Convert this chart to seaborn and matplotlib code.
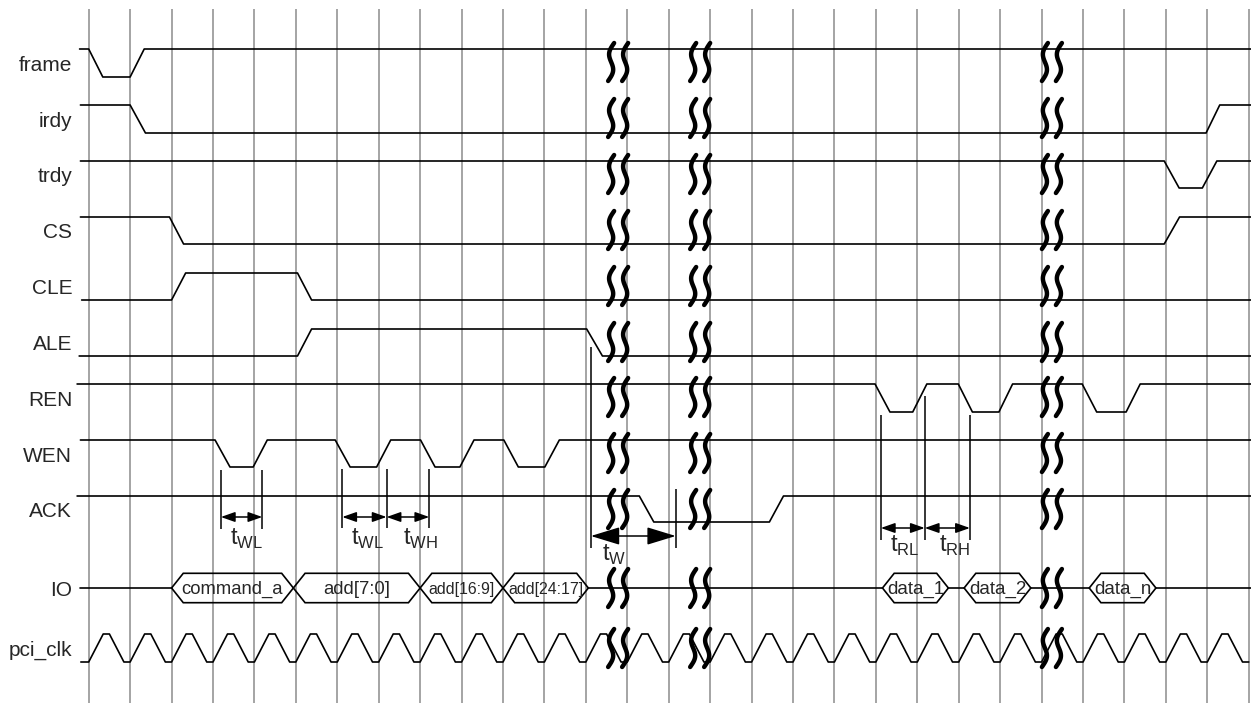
import numpy as np
import pandas as pd
import matplotlib
matplotlib.use('Agg')
import matplotlib.pyplot as plt
import seaborn as sns
from matplotlib.patches import Polygon

# ---- data: transition times in clock periods, 1 = high, 0 = low ----
signals = ['frame', 'irdy', 'trdy', 'CS', 'CLE', 'ALE', 'REN', 'WEN', 'ACK']

frame_t = [-0.22, 0.0, 0.34, 1.0, 1.34, 28.1]
frame_v = [1, 1, 0, 0, 1, 1]
irdy_t = [-0.2, 1.0, 1.37, 26.97, 27.3, 28.1]
irdy_v = [1, 1, 0, 0, 1, 1]
trdy_t = [-0.2, 25.96, 26.32, 26.88, 27.23, 28.1]
trdy_v = [1, 1, 0, 0, 1, 1]
cs_t = [-0.2, 1.95, 2.29, 25.96, 26.33, 28.1]
cs_v = [1, 1, 0, 0, 1, 1]
cle_t = [-0.17, 2.0, 2.34, 5.04, 5.38, 28.1]
cle_v = [0, 0, 1, 1, 0, 0]
ale_t = [-0.23, 5.04, 5.38, 12.02, 12.4, 28.1]
ale_v = [0, 0, 1, 1, 0, 0]
ren_t = [-0.28, 18.98, 19.34, 19.89, 20.23, 20.99, 21.33, 21.97, 22.3,
         23.98, 24.33, 25.04, 25.38, 28.1]
ren_v = [1, 1, 0, 0, 1, 1, 0, 0, 1, 1, 0, 0, 1, 1]
wen_t = [-0.2, 3.05, 3.41, 3.97, 4.31, 5.95, 6.31, 6.95, 7.29, 8.01, 8.36,
         8.96, 9.3, 10.02, 10.37, 11.01, 11.36, 28.1]
wen_v = [1, 1, 0, 0, 1, 1, 0, 0, 1, 1, 0, 0, 1, 1, 0, 0, 1, 1]
ack_t = [-0.28, 13.29, 13.64, 16.43, 16.77, 28.1]
ack_v = [1, 1, 0, 0, 1, 1]

sig_t = [frame_t, irdy_t, trdy_t, cs_t, cle_t, ale_t, ren_t, wen_t, ack_t]
sig_v = [frame_v, irdy_v, trdy_v, cs_v, cle_v, ale_v, ren_v, wen_v, ack_v]

# IO bus words: label, start, end
io_labels = ['command_a', 'add[7:0]', 'add[16:9]', 'add[24:17]', 'data_1', 'data_2', 'data_n']
io_start = [2.0, 4.94, 8.0, 10.0, 19.16, 21.13, 24.15]
io_end = [4.94, 8.0, 10.0, 12.06, 20.75, 22.74, 25.76]
io_fontsize = [13.3, 13.3, 11.4, 11.4, 13.5, 13.5, 13.5]

# pci_clk: one period shape, repeated for every cycle
clk_cycles = 29
clk_shape_t = [0.0, 0.35, 0.5, 0.85]
clk_shape_v = [0, 1, 1, 0]

# time-gap breaks (left squiggle of each pair)
breaks = [12.61, 14.59, 23.08]

# timing markers
mark_x = [3.19, 4.19, 6.12, 7.19, 8.22, 12.12, 14.17, 19.12, 20.18, 21.27]
mark_top = [470, 470, 469, 469, 469, 347, 489, 415, 396, 415]
mark_bot = [529, 529, 528, 528, 528, 548, 548, 540, 540, 540]

# timing arrows: from, to, subscript
arr_from = [3.19, 6.12, 7.19, 12.12, 19.12, 20.18]
arr_to = [4.19, 7.19, 8.22, 14.17, 20.18, 21.27]
arr_sub = ['WL', 'WL', 'WH', 'W', 'RL', 'RH']

# ---- layout (pixels) ----
PX = 41.43            # pixels per clock period
X0 = 88.7             # pixel of first clock edge
row_high = [49, 105, 161, 217, 273, 329, 384, 440, 496]
row_low = [77, 133, 188, 244, 300, 356, 412, 467, 522]
io_y, io_half = 588, 14.7
clk_hi, clk_lo = 634, 662
arr_y = [517, 517, 517, 536, 528, 528]
lab_x = [3.81, 6.74, 8.0, 12.68, 19.7, 20.91]
lab_y = [539, 539, 539, 555, 546, 546]

sns.set_style('white')
plt.rcParams['font.family'] = ['Liberation Sans', 'DejaVu Sans']
plt.rcParams['mathtext.fontset'] = 'custom'
plt.rcParams['mathtext.rm'] = 'Liberation Sans'

fig = plt.figure(figsize=(12.51, 7.06), dpi=100)
ax = fig.add_axes([0, 0, 1, 1])

# clock grid
ax.vlines(np.arange(29), 9, 703, color='#959595', lw=1.2, zorder=1)

# control signals
rows = []
for name, ts, vs, hi, lo in zip(signals, sig_t, sig_v, row_high, row_low):
    for t, v in zip(ts, vs):
        rows.append((name, t, hi if v else lo))
ck = [('pci_clk', -0.19, clk_lo)]
for k in range(clk_cycles):
    for t, v in zip(clk_shape_t, clk_shape_v):
        if k + t <= 28.1:
            ck.append(('pci_clk', k + t, clk_hi if v else clk_lo))
rows += ck
df = pd.DataFrame(rows, columns=['signal', 't', 'y'])
sns.lineplot(data=df, x='t', y='y', units='signal', estimator=None, sort=False,
             color='black', lw=1.2, legend=False, ax=ax, zorder=3)

# IO bus
gaps = [-0.2] + [v for pair in zip(io_start, io_end) for v in pair] + [28.1]
for a, b in zip(gaps[0::2], gaps[1::2]):
    if b > a:
        ax.plot([a, b], [io_y, io_y], color='black', lw=1.2, zorder=3)
s = 11.7 / PX
for lab, a, b, fs in zip(io_labels, io_start, io_end, io_fontsize):
    pts = [(a, io_y), (a + s, io_y - io_half), (b - s, io_y - io_half), (b, io_y),
           (b - s, io_y + io_half), (a + s, io_y + io_half)]
    ax.add_patch(Polygon(pts, closed=True, fill=False, ec='black', lw=1.2, zorder=3))
    ax.text((a + b) / 2, io_y + 1.5, lab, ha='center', va='center', fontsize=fs, zorder=4)

# labels
for name, hi, lo in zip(signals, row_high, row_low):
    ax.text(-0.40, (hi + lo) / 2 + 2.5, name, ha='right', va='center', fontsize=15)
ax.text(-0.40, io_y + 2.5, 'IO', ha='right', va='center', fontsize=15)
ax.text(-0.40, (clk_hi + clk_lo) / 2 + 2.5, 'pci_clk', ha='right', va='center', fontsize=15)

# squiggles
sq = np.linspace(0, 1, 40)
dx = (3.0 * np.cos(np.pi * sq) - 4.0 * np.sin(2 * np.pi * sq)) / PX
centers = [h + 13 for h in row_high] + [io_y, (clk_hi + clk_lo) / 2]
for bx in breaks:
    for off in (0.0, 14 / PX):
        for yc in centers:
            ax.plot(bx + off + dx, yc - 19 + 38 * sq, color='black', lw=3.2,
                    solid_capstyle='round', zorder=5)

# timing markers and arrows
ax.vlines(mark_x, mark_top, mark_bot, color='black', lw=1.1, zorder=4)
for x0, x1, y, sub, lx, ly in zip(arr_from, arr_to, arr_y, arr_sub, lab_x, lab_y):
    big = (x1 - x0) > 1.5
    style = '<|-|>,head_length=1.8,head_width=0.55' if big else '<|-|>,head_length=0.85,head_width=0.3'
    ax.annotate('', xy=(x1, y), xytext=(x0, y),
                arrowprops=dict(arrowstyle=style, color='black', lw=1.1,
                                shrinkA=0, shrinkB=0, mutation_scale=10), zorder=4)
    ax.text(lx, ly, r'$\mathrm{t}_{\mathrm{' + sub + '}}$', ha='center', va='center', fontsize=17)

ax.set_xlim(-X0 / PX, (1251 - X0) / PX)
ax.set_ylim(706, 0)
ax.axis('off')
fig.savefig('out.png', dpi=100, facecolor='white')
